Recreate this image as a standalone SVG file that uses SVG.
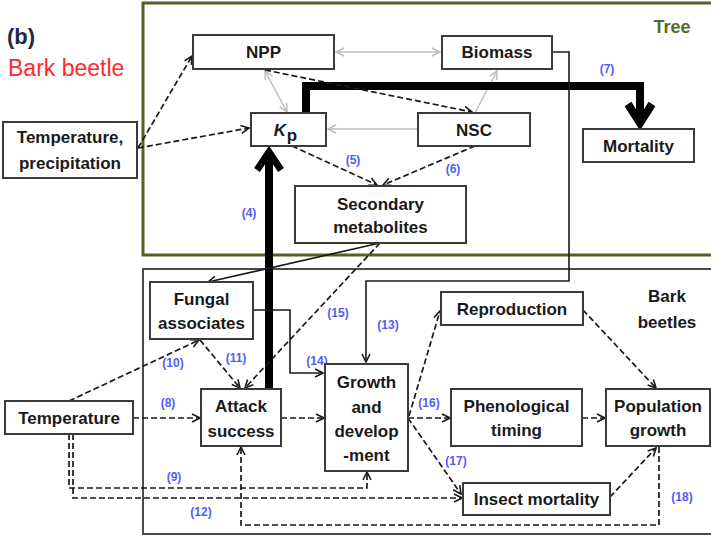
<svg xmlns="http://www.w3.org/2000/svg" width="711" height="536" viewBox="0 0 711 536">
<style>
.box{fill:#fff;stroke:#3a3a3a;stroke-width:2}
.t{font-family:"Liberation Sans",Arial,sans-serif;font-weight:bold;font-size:17px;fill:#1a1a1a;text-anchor:middle}
.lb{font-family:"Liberation Sans",Arial,sans-serif;font-weight:bold;font-size:12px;fill:#4f5cff;text-anchor:middle}
.g{fill:none;stroke:#bdbdbd;stroke-width:1.5}
.s{fill:none;stroke:#1a1a1a;stroke-width:1.6}
.d{fill:none;stroke:#1a1a1a;stroke-width:1.7;stroke-dasharray:6 3}
.k{fill:none;stroke:#000;stroke-width:8}
</style>
<defs>
<marker id="ah" markerUnits="userSpaceOnUse" markerWidth="10" markerHeight="10" refX="8" refY="4" orient="auto-start-reverse" viewBox="-1 -1 10 10">
<path d="M0,0 L8,4 L0,8" fill="none" stroke="#1a1a1a" stroke-width="1.6"/>
</marker>
<marker id="ag" markerUnits="userSpaceOnUse" markerWidth="10" markerHeight="10" refX="8" refY="4" orient="auto-start-reverse" viewBox="-1 -1 10 10">
<path d="M0,0 L8,4 L0,8" fill="none" stroke="#bdbdbd" stroke-width="1.5"/>
</marker>
</defs>
<rect width="711" height="536" fill="#fff"/>
<rect x="143" y="3" width="580" height="252" fill="none" stroke="#4f6228" stroke-width="3"/>
<rect x="143" y="269" width="580" height="265" fill="none" stroke="#4a4a4a" stroke-width="2"/>
<text x="7" y="44" font-family="Liberation Sans,Arial,sans-serif" font-weight="bold" font-size="22" fill="#1f2a44">(b)</text>
<text x="8" y="76" font-family="Liberation Sans,Arial,sans-serif" font-size="23" fill="#ff2a2a">Bark beetle</text>
<text x="672" y="33" font-family="Liberation Sans,Arial,sans-serif" font-weight="bold" font-size="18" fill="#5a6a1e" text-anchor="middle">Tree</text>
<text x="667" y="302" class="t" font-size="18">Bark</text>
<text x="667" y="328" class="t" font-size="18">beetles</text>
<g id="connectors">
<line class="g" x1="336" y1="52" x2="440" y2="52" marker-start="url(#ag)" marker-end="url(#ag)"/>
<line class="g" x1="265" y1="71" x2="287" y2="112" marker-start="url(#ag)" marker-end="url(#ag)"/>
<line class="g" x1="418" y1="129" x2="328" y2="129" marker-end="url(#ag)"/>
<line class="g" x1="475" y1="113" x2="497" y2="71" marker-end="url(#ag)"/>
<line class="k" x1="269" y1="389" x2="269" y2="154"/>
<path d="M257,170 L269,152 L281,170" fill="none" stroke="#000" stroke-width="7"/>
<path class="k" d="M306,113 V86 H640 V118"/>
<path d="M628,104 L640,123 L652,104" fill="none" stroke="#000" stroke-width="8"/>
<path class="s" d="M552,52 H569 V281 H366 V362" marker-end="url(#ah)"/>
<line class="s" x1="380" y1="243" x2="208" y2="282" marker-end="url(#ah)"/>
<path class="s" d="M253,310 H290 V373 H323" marker-end="url(#ah)"/>
<line class="d" x1="138" y1="148" x2="192" y2="56" marker-end="url(#ah)"/>
<line class="d" x1="138" y1="148" x2="249" y2="128" marker-end="url(#ah)"/>
<line class="d" x1="265" y1="70" x2="472" y2="112" marker-end="url(#ah)"/>
<line class="d" x1="292" y1="146" x2="377" y2="185" marker-end="url(#ah)"/>
<line class="d" x1="475" y1="146" x2="383" y2="185" marker-end="url(#ah)"/>
<line class="d" x1="380" y1="243" x2="245" y2="388" marker-end="url(#ah)"/>
<line class="d" x1="69" y1="401" x2="199" y2="340" marker-end="url(#ah)"/>
<line class="d" x1="200" y1="340" x2="240" y2="388" marker-end="url(#ah)"/>
<line class="d" x1="133" y1="418" x2="200" y2="418" marker-end="url(#ah)"/>
<line class="d" x1="281" y1="418" x2="324" y2="418" marker-end="url(#ah)"/>
<path class="d" d="M69,434 V488 H367 V472" marker-end="url(#ah)"/>
<path class="d" d="M73,434 V498 H462" marker-end="url(#ah)"/>
<path class="d" d="M659,447 V525 H241 V447" marker-end="url(#ah)"/>
<line class="d" x1="409" y1="416" x2="440" y2="311" marker-end="url(#ah)"/>
<line class="d" x1="408" y1="418" x2="450" y2="418" marker-end="url(#ah)"/>
<line class="d" x1="408" y1="418" x2="461" y2="494" marker-end="url(#ah)"/>
<line class="d" x1="583" y1="310" x2="656" y2="388" marker-end="url(#ah)"/>
<line class="d" x1="582" y1="418" x2="605" y2="418" marker-end="url(#ah)"/>
<line class="d" x1="610" y1="497" x2="656" y2="448" marker-end="url(#ah)"/>
</g>
<g id="labels">
<text class="lb" x="249" y="217">(4)</text>
<text class="lb" x="353" y="164">(5)</text>
<text class="lb" x="453" y="173">(6)</text>
<text class="lb" x="607" y="73">(7)</text>
<text class="lb" x="168" y="407">(8)</text>
<text class="lb" x="174" y="481">(9)</text>
<text class="lb" x="173" y="367">(10)</text>
<text class="lb" x="236" y="362">(11)</text>
<text class="lb" x="201" y="516">(12)</text>
<text class="lb" x="388" y="329">(13)</text>
<text class="lb" x="317" y="365">(14)</text>
<text class="lb" x="338" y="317">(15)</text>
<text class="lb" x="429" y="407">(16)</text>
<text class="lb" x="456" y="465">(17)</text>
<text class="lb" x="682" y="501">(18)</text>
</g>
<g id="npp"><rect class="box" x="193" y="35" width="141" height="34"/><text class="t" x="263.5" y="58">NPP</text></g>
<g id="biomass"><rect class="box" x="442" y="36" width="110" height="33"/><text class="t" x="497" y="58">Biomass</text></g>
<g id="kp"><rect class="box" x="251" y="113" width="75" height="33"/><text class="t" x="280" y="136" font-style="italic" text-anchor="start">K</text><text class="t" x="292" y="141" font-size="11" text-anchor="start">p</text></g>
<g id="nsc"><rect class="box" x="418" y="113" width="112" height="33"/><text class="t" x="474" y="136">NSC</text></g>
<g id="mortality"><rect class="box" x="583" y="129" width="111" height="33"/><text class="t" x="638.5" y="152">Mortality</text></g>
<g id="temp-precip"><rect class="box" x="3" y="122" width="134" height="56"/><text class="t" x="70" y="143">Temperature,</text><text class="t" x="70" y="169">precipitation</text></g>
<g id="secmet"><rect class="box" x="295" y="186" width="171" height="57"/><text class="t" x="380.5" y="210">Secondary</text><text class="t" x="380.5" y="233">metabolites</text></g>
<g id="fungal"><rect class="box" x="150" y="282" width="103" height="57"/><text class="t" x="201.5" y="305">Fungal</text><text class="t" x="201.5" y="329">associates</text></g>
<g id="attack"><rect class="box" x="201" y="389" width="80" height="57"/><text class="t" x="241" y="412">Attack</text><text class="t" x="241" y="437">success</text></g>
<g id="growth"><rect class="box" x="325" y="364" width="83" height="107"/><text class="t" x="366.5" y="388">Growth</text><text class="t" x="366.5" y="413">and</text><text class="t" x="366.5" y="437">develop</text><text class="t" x="366.5" y="461">-ment</text></g>
<g id="reproduction"><rect class="box" x="441" y="292" width="142" height="33"/><text class="t" x="512" y="315">Reproduction</text></g>
<g id="phenological"><rect class="box" x="451" y="389" width="131" height="57"/><text class="t" x="516.5" y="412">Phenological</text><text class="t" x="516.5" y="436">timing</text></g>
<g id="population"><rect class="box" x="606" y="389" width="104" height="57"/><text class="t" x="658" y="412">Population</text><text class="t" x="658" y="436">growth</text></g>
<g id="insect-mortality"><rect class="box" x="463" y="483" width="147" height="32"/><text class="t" x="536.5" y="505">Insect mortality</text></g>
<g id="temperature"><rect class="box" x="5" y="401" width="128" height="33"/><text class="t" x="69" y="424">Temperature</text></g>
</svg>
